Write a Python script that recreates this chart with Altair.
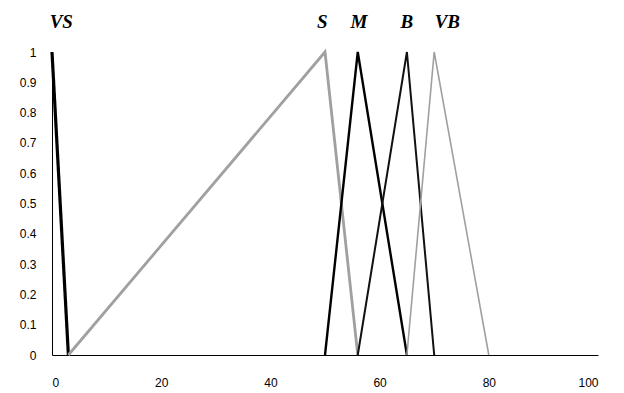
import altair as alt
import pandas as pd

# Membership function vertices (x, y) for each fuzzy set
series_names = ["VS", "S", "M", "B", "VB"]
vs_x = [0, 3];        vs_y = [1, 0]
s_x = [3, 50, 56];    s_y = [0, 1, 0]
m_x = [50, 56, 65];   m_y = [0, 1, 0]
b_x = [56, 65, 70];   b_y = [0, 1, 0]
vb_x = [65, 70, 80];  vb_y = [0, 1, 0]

label_text = ["VS", "S", "M", "B", "VB"]
label_x = [1.7, 49.5, 56.2, 65, 72.4]
label_y = [1.1, 1.1, 1.1, 1.1, 1.1]

x_ticks = [0, 20, 40, 60, 80, 100]
y_ticks = [0, 0.1, 0.2, 0.3, 0.4, 0.5, 0.6, 0.7, 0.8, 0.9, 1]

rows = []
for name, xs, ys in zip(series_names, [vs_x, s_x, m_x, b_x, vb_x], [vs_y, s_y, m_y, b_y, vb_y]):
    for i, (xv, yv) in enumerate(zip(xs, ys)):
        rows.append({"set": name, "x": xv, "y": yv, "order": i})
df = pd.DataFrame(rows)
labels = pd.DataFrame({"text": label_text, "x": label_x, "y": label_y})

colors = ["#000000", "#a0a0a0", "#000000", "#111111", "#a0a0a0"]
widths = [3.2, 1.6, 3.2, 2.6, 1.4]

xscale = alt.Scale(domain=[0, 100], nice=False)
yscale = alt.Scale(domain=[0, 1], nice=False)

x_axis = alt.Axis(values=x_ticks, grid=False, tickSize=0, labelPadding=22,
                  domainColor="#000000", domainWidth=1, labelFont="Liberation Sans",
                  labelFontSize=12, labelColor="#000000", format="d",
                  labelOverlap=False)
y_axis = alt.Axis(values=y_ticks, grid=False, tickSize=0, labelPadding=16,
                  domainColor="#000000", domainWidth=1, labelFont="Liberation Sans",
                  labelFontSize=12, labelColor="#000000", format="~g",
                  labelOverlap=False)

lines = alt.Chart(df).mark_line(clip=False).encode(
    x=alt.X("x:Q", scale=xscale, title=None, axis=x_axis),
    y=alt.Y("y:Q", scale=yscale, title=None, axis=y_axis),
    detail="set:N",
    order="order:Q",
    color=alt.Color("set:N", scale=alt.Scale(domain=series_names, range=colors), legend=None),
    strokeWidth=alt.StrokeWidth("set:N", scale=alt.Scale(domain=series_names, range=widths), legend=None),
)

text = alt.Chart(labels).mark_text(
    font="Liberation Serif", fontSize=19, fontWeight="bold", fontStyle="italic",
    color="#000000", baseline="middle", align="center"
).encode(
    x=alt.X("x:Q", scale=xscale, title=None, axis=x_axis),
    y=alt.Y("y:Q", scale=yscale, title=None, axis=y_axis),
    text="text:N",
)

chart = alt.layer(lines, text).properties(
    width=546, height=303,
    autosize=alt.AutoSizeParams(type="none"),
    padding={"left": 44, "top": 44, "right": 10, "bottom": 38},
    background="#ffffff",
).configure_view(stroke=None)

chart.save("out.html", embed_options={"renderer": "svg", "actions": False})
